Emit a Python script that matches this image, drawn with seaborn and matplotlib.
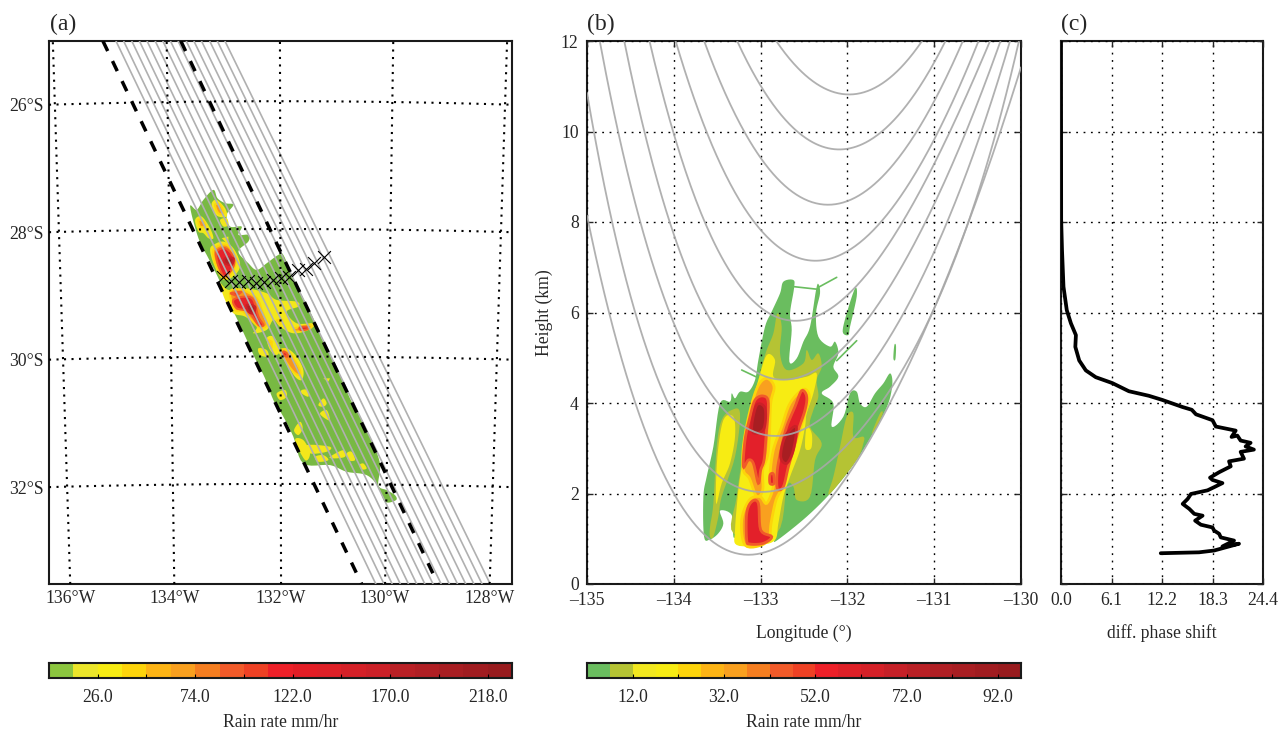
import numpy as np
import pandas as pd
import seaborn as sns
import matplotlib
matplotlib.use("Agg")
import matplotlib.pyplot as plt

sns.set_style("white")
plt.rcParams["font.family"] = ["Liberation Serif", "DejaVu Serif"]
plt.rcParams["font.size"] = 12.7

# ---------- panel (a) values: lon/lat frame ----------
LAT_TICKS = [-26, -28, -30, -32]
LAT_LABELS = ["26°S", "28°S", "30°S", "32°S"]
LAT_MID = [-25.945, -27.95, -29.95, -31.95]
LON_LABELS = ["136°W", "134°W", "132°W", "130°W", "128°W"]
MERID_TOP = [-136.19, -134.10, -132.02, -129.94, -127.85]
MERID_BOT = [-135.87, -133.96, -132.0, -130.09, -128.17]
GREY_TOP = [-135.03, -134.89, -134.74, -134.60, -134.46, -134.31, -134.17, -134.03,
            -133.89, -133.74, -133.60, -133.46, -133.31, -133.17, -133.03]
GREY_BOT = [-130.26, -130.11, -129.96, -129.81, -129.66, -129.51, -129.36, -129.21,
            -129.06, -128.91, -128.76, -128.61, -128.46, -128.31, -128.16]
DASH_TOP = [-135.27, -133.84]
DASH_BOT = [-130.52, -129.12]

# rain outlines of (a), digitised on a fine grid: lon=-134.037+i/163.5, lat=-27.021-j/191
A_GREEN = [[(130,60),(142,85),(165,100),(190,105),(170,135),(180,170),(215,170),(205,195),(235,195),(235,215),
            (205,245),(235,280),(260,300),(290,280),(325,255),(340,255),(370,325),(400,385),(430,445),(455,505),
            (485,565),(515,625),(540,685),(570,740),(600,800),(630,880),(625,945),(650,960),(675,975),(678,990),
            (645,995),(625,950),(590,915),(530,905),(480,885),(400,880),(370,800),(340,740),(310,690),(285,625),
            (255,565),(228,505),(200,445),(170,385),(145,325),(115,265),(85,205),(60,110),(80,120),(100,90)]]
A_YELLOW = [[(125,100),(140,90),(165,115),(170,140),(145,140),(130,125)],
            [(150,150),(170,145),(175,165),(160,170)],
            [(75,150),(95,140),(120,175),(130,205),(115,205),(100,190),(85,185)],
            [(120,240),(130,225),(160,215),(190,235),(210,280),(200,310),(170,330),(150,320),(130,280)],
            [(155,205),(175,200),(175,225)],
            [(150,340),(175,360),(230,355),(290,370),(320,390),(380,395),(385,410),(350,425),(380,460),(435,460),
             (415,480),(370,490),(330,470),(310,450),(290,480),(250,490),(260,470),(225,440),(190,430),(165,390)],
            [(290,505),(310,500),(330,535),(320,555),(300,540)],
            [(265,535),(290,540),(295,560),(270,555)],
            [(325,545),(350,535),(380,560),(400,600),(395,630),(375,620),(350,580)],
            [(460,625),(480,625),(475,635)],[(320,670),(345,660),(350,680),(330,690)],
            [(395,660),(412,660),(415,680),(395,670)],[(445,705),(460,685),(470,700),(460,710)],
            [(450,730),(470,720),(480,750),(465,745)],[(372,780),(390,755),(398,775),(385,795)],
            [(375,810),(400,810),(420,850),(405,870)],[(410,825),(480,830),(470,845),(420,850)],
            [(435,860),(460,855),(475,870),(445,875)],[(480,860),(520,840),(525,860),(490,865)],
            [(530,850),(545,845),(555,870),(535,870)],[(568,885),(580,880),(590,895),(575,898)]]
A_ORANGE = [[(135,105),(150,105),(160,130),(145,130)],[(85,150),(100,155),(105,170),(90,170)],
            [(130,240),(170,225),(195,265),(190,300),(165,325),(140,290)],
            [(180,365),(215,360),(260,385),(275,420),(290,465),(265,470),(220,425),(195,420)],
            [(295,510),(305,515),(305,535)],[(335,540),(355,545),(385,590),(390,615),(370,605),(345,570)],
            [(375,475),(420,465),(420,475),(380,485)],[(320,450),(335,450),(330,465)]]
A_RED = [[(140,245),(165,235),(190,260),(190,290),(165,320),(150,300),(140,270)],
         [(190,390),(225,380),(250,390),(265,440),(280,465),(265,465),(235,425),(200,415)],
         [(180,370),(215,365),(200,378)],[(340,545),(350,550),(352,560),(340,555)],
         [(390,472),(412,470),(412,478),(392,480)]]
A_DARK = [[(165,265),(190,265),(185,285),(165,280)],[(230,405),(255,410),(250,430),(235,425)]]
TRACK_I = [158,183,208,233,258,283,308,333,358,383,408,433,462]
TRACK_J = [320,332,336,332,340,335,330,325,320,300,298,278,262]

# ---------- panel (b) values ----------
BEAMS = [
    [(-135,8.0),(-134.72,6.12),(-134.47,4.05),(-134.03,2.0),(-133.2,.67),(-132.63,1.04),(-132,2.47),(-131.47,4.05),(-131,6.12),(-130,11.42)],
    [(-135,10.8),(-134.70,8),(-134.07,4.05),(-133.81,3.0),(-133.43,2.3),(-133,2.0),(-132.47,2.45),(-131.82,3.55),(-131.28,4.8),(-130.63,8),(-130.02,12)],
    [(-134.85,12),(-134.65,10),(-134.38,8),(-133.81,5.0),(-133.43,3.77),(-132.85,3.33),(-132.2,3.85),(-131.3,6.05),(-130.86,8),(-130.47,10),(-130.12,12)],
    [(-134.57,12),(-134.34,10),(-134.05,8),(-133.81,6.79),(-133.43,5.32),(-132.81,4.62),(-132.28,4.8),(-131.39,6.94),(-131.09,8),(-130.65,10),(-130.23,12)],
    [(-134.28,12),(-134,10),(-133.67,8),(-133.35,6.94),(-132.58,5.9),(-131.70,6.94),(-131.36,8),(-130.84,10),(-130.35,12)],
    [(-133.98,12),(-133.62,10),(-133.08,8),(-132.43,7.15),(-131.62,8),(-130.95,10),(-130.49,12)],
    [(-133.65,12),(-133.19,10),(-132.28,8.39),(-131.2,10),(-130.67,12)],
    [(-133.27,12),(-132.58,10),(-132.11,9.61),(-131.6,10),(-130.87,12)],
    [(-132.82,12),(-132.01,10.82),(-131.14,12)],
]
LON_TICKS = [-135, -134, -133, -132, -131, -130]
LON_TICK_LABELS = ["–135", "–134", "–133", "–132", "–131", "–130"]
H_TICKS = [0, 2, 4, 6, 8, 10, 12]

# rain outlines of (b), digitised on a fine grid: lon=-133.813+i/260.4, height=6.939-j/135.75
B_GREEN = [[(42,800),(40,680),(50,620),(70,530),(90,400),(120,395),(125,370),(135,385),(150,365),(175,365),(195,330),
            (205,270),(225,170),(245,125),(270,70),(280,35),(310,30),(312,55),(300,130),(305,180),(298,275),(320,265),
            (340,215),(360,170),(378,60),(385,42),(390,70),(378,130),(385,200),(420,230),(435,215),(445,250),(430,290),
            (445,320),(420,350),(395,370),(430,400),(425,470),(460,440),(480,370),(500,365),(510,400),(530,410),(555,370),
            (580,340),(600,310),(607,340),(595,400),(560,470),(500,570),(430,660),(350,740),(260,812),(250,810),(210,825),
            (145,825),(140,800),(130,800),(125,735),(90,722),(100,760),(85,790),(60,808)],
           [(495,55),(500,80),(480,170),(475,195),(458,185),(470,130)],
           [(610,265),(613,225),(618,228),(616,268)]]
B_THIN = [[(385,52),(440,22)],[(312,50),(385,58)],[(155,300),(212,327)],[(440,272),(500,212)]]
B_OLIVE = [[(60,800),(60,770),(70,700),(80,530),(95,450),(125,420),(150,430),(135,560),(95,680),(85,740),(70,800)],
           [(130,790),(140,680),(160,540),(180,420),(200,350),(215,290),(230,240),(250,190),(262,130),(275,170),(270,250),
            (290,300),(340,280),(350,240),(365,270),(385,250),(395,290),(380,330),(385,380),(370,420),(360,470),(395,520),
            (375,570),(360,680),(320,690),(310,650),(290,650),(260,790)],
           [(415,670),(430,620),(450,530),(470,440),(490,430),(490,500),(520,500),(520,520),(500,570),(430,660)],
           [(545,490),(570,430),(578,430),(560,470)]]
B_YELLOW = [[(140,825),(135,780),(145,660),(155,590),(165,500),(185,400),(205,330),(230,255),(255,270),(250,320),(290,330),
             (350,320),(380,310),(370,370),(350,430),(345,470),(330,540),(300,620),(280,680),(265,760),(255,810),(210,825)],
            [(345,530),(350,470),(365,490),(365,530),(355,540)],
            [(78,700),(82,560),(100,450),(130,440),(135,500),(120,580),(95,640)]]
B_ORANGE = [[(160,600),(160,530),(178,430),(203,350),(230,325),(252,350),(242,400),(238,500),(232,560),(218,600),(218,660),(200,680),(178,625)],
            [(165,825),(155,750),(178,690),(210,680),(230,700),(250,650),(240,620),(250,540),(275,470),(300,400),(340,358),(358,380),
             (345,430),(320,510),(295,590),(278,650),(258,690),(243,760),(238,800),(215,825)]]
B_RED = [[(160,590),(165,510),(180,440),(195,390),(220,378),(235,400),(228,500),(222,570),(212,600),(205,640),(190,580),(175,570)],
         [(170,810),(170,730),(185,695),(205,700),(212,780),(245,800),(220,820),(180,822)],
         [(262,655),(262,600),(275,530),(290,470),(315,410),(335,362),(350,380),(345,420),(325,480),(312,530),(295,590),(280,650)],
         [(240,615),(250,612),(252,640),(240,640)]]
B_DARK = [[(185,470),(200,405),(225,415),(222,475),(195,490)],[(272,560),(285,500),(318,470),(310,540),(290,580)]]

# ---------- panel (c) values ----------
PHASE = [12.05,16.67,18.5,21.5,19.5,20.9,19.3,19.1,18.5,18.3,16.9,16.2,17.1,16.1,15.5,14.7,15.3,15.7,17.7,18.5,19.5,18.3,18.0,
         19.1,20.5,20.3,22.1,21.7,23.3,22.3,22.9,21.7,21.3,20.6,21.1,18.7,18.3,16.3,15.8,14.7,12.2,10.6,8.2,6.2,4.2,3.0,2.2,1.73,
         1.8,1.2,.7,.3,.12,.02,0.0]
PHASE_H = [.68,.70,.74,.89,.83,.96,1.03,1.11,1.18,1.25,1.31,1.40,1.51,1.55,1.66,1.77,1.88,1.99,2.07,2.14,2.23,2.30,2.35,
           2.47,2.6,2.71,2.77,2.92,2.97,3.04,3.12,3.17,3.28,3.25,3.39,3.48,3.62,3.75,3.85,3.91,4.07,4.16,4.26,4.44,4.57,4.72,4.94,5.24,
           5.5,5.76,6.05,6.57,7.39,8.05,12.0]
PHASE_TICKS = [0.0, 6.1, 12.2, 18.3, 24.4]

# ---------- colour bars ----------
CB1_EDGES = list(range(2, 231, 12))
CB1_COLORS = ["#8cc63f","#ece62a","#f7ec13","#fdd40b","#fdb415","#f9a01f","#f57e20","#f15a29","#ee4124","#ed2028",
              "#e31e26","#de2027","#d42027","#cb2027","#b92025","#b01f24","#a81e22","#a01c20","#981b1e"]
CB1_LABELS = [26.0, 74.0, 122.0, 170.0, 218.0]
CB2_EDGES = list(range(2, 98, 5))
CB2_COLORS = ["#6abd5f","#b5c334","#f2e81f","#f7ec13","#fdd40b","#fdb415","#f9a01f","#f57e20","#f15a29","#ee4124",
              "#ed2028","#de2027","#d42027","#c52027","#b92025","#b01f24","#a81e22","#a01c20","#981b1e"]
CB2_LABELS = [12.0, 32.0, 52.0, 72.0, 92.0]

W, H = 1279, 733
fig = plt.figure(figsize=(W / 100, H / 100), dpi=100)


def add_ax(x0, y0, x1, y1):
    return fig.add_axes([x0 / W, 1 - y1 / H, (x1 - x0) / W, (y1 - y0) / H])


def smooth(poly, steps=6):
    """Closed Catmull-Rom curve through the digitised vertices."""
    p = np.asarray(poly, float)
    if len(p) < 4:
        return p
    t = np.linspace(0, 1, steps, endpoint=False)[:, None]
    out = []
    for i in range(len(p)):
        a, b, c, d = p[i - 1], p[i], p[(i + 1) % len(p)], p[(i + 2) % len(p)]
        out.append(0.5 * (2 * b + (c - a) * t + (2 * a - 5 * b + 4 * c - d) * t ** 2 + (3 * b - a - 3 * c + d) * t ** 3))
    return np.vstack(out)


def frame(ax):
    for s in ax.spines.values():
        s.set_visible(True)
        s.set_linewidth(1.5)
        s.set_color("#1a1a1a")


DOT = (0, (1.3, 4.0))
GREY = "#b0b0b0"

# ---------- (a) ----------
axa = add_ax(49, 41, 512, 584)
frame(axa)
axa.set_xlim(-136.26, -127.76)
axa.set_ylim(-33.52, -25.0)


def a_xy(poly):
    p = smooth(poly)
    return -134.037 + p[:, 0] / 163.5, -27.021 - p[:, 1] / 191


for polys, col, edge, z in [(A_GREEN, "#78b943", "none", 2), (A_YELLOW, "#f3e71b", "none", 3),
                            (A_ORANGE, "#f7951d", "#fdd40b", 4), (A_RED, "#e5232a", "#f15a29", 5),
                            (A_DARK, "#b01f24", "#cb2027", 6)]:
    for poly in polys:
        xs, ys = a_xy(poly)
        axa.fill(xs, ys, facecolor=col, edgecolor=edge, lw=0 if edge == "none" else 1.5, zorder=z)

ylim_a = axa.get_ylim()
for top, bot in zip(GREY_TOP, GREY_BOT):
    sns.lineplot(x=[bot, top], y=[ylim_a[0], ylim_a[1]], ax=axa, color=GREY, lw=1.2, sort=False, estimator=None, zorder=7)
for top, bot in zip(DASH_TOP, DASH_BOT):
    axa.plot([top, bot], [ylim_a[1], ylim_a[0]], color="black", lw=2.5, ls=(0, (3.2, 3.2)), zorder=9)
for top, bot in zip(MERID_TOP, MERID_BOT):
    axa.plot([bot, top], [ylim_a[0], ylim_a[1]], color="black", lw=1.5, ls=(0, (1, 2.6)), zorder=8)
for edge, mid in zip(LAT_TICKS, LAT_MID):
    c = np.polyfit([-136.26, -132.0, -127.76], [edge, mid, edge], 2)
    xx = np.linspace(-136.26, -127.76, 120)
    axa.plot(xx, np.polyval(c, xx), color="black", lw=1.5, ls=(0, (1, 2.6)), zorder=8)
sns.scatterplot(x=-134.037 + np.array(TRACK_I) / 163.5, y=-27.021 - np.array(TRACK_J) / 191, ax=axa,
                marker="x", s=85, color="black", linewidth=0.8, zorder=10)
axa.set_xticks(MERID_BOT)
axa.set_xticklabels(LON_LABELS)
axa.set_yticks(LAT_TICKS)
axa.set_yticklabels(LAT_LABELS)
axa.tick_params(length=0, pad=4)

# ---------- (b) ----------
axb = add_ax(587, 41, 1021, 584)
frame(axb)
axb.set_xlim(-135, -130)
axb.set_ylim(0, 12)


def b_xy(poly, interp=True):
    p = smooth(poly) if interp else np.asarray(poly, float)
    return -133.813 + p[:, 0] / 260.4, 6.939 - p[:, 1] / 135.75


for polys, col, edge, z in [(B_GREEN, "#6abd5f", "none", 2), (B_OLIVE, "#b5c334", "none", 3),
                            (B_YELLOW, "#f7ec13", "none", 4), (B_ORANGE, "#f9a01f", "#fdd40b", 5),
                            (B_RED, "#e3202a", "#f15a29", 6), (B_DARK, "#a81e22", "#cb2027", 7)]:
    for poly in polys:
        xs, ys = b_xy(poly)
        axb.fill(xs, ys, facecolor=col, edgecolor=edge, lw=0 if edge == "none" else 2.0, zorder=z)
for seg in B_THIN:
    xs, ys = b_xy(seg, False)
    axb.plot(xs, ys, color="#6abd5f", lw=1.2, zorder=2)
for beam in BEAMS:
    bx, by = np.array(beam).T
    c = np.polyfit(bx, by, min(4, len(bx) - 2) if len(bx) > 3 else 2)
    xx = np.linspace(bx.min(), bx.max(), 200)
    frame_df = pd.DataFrame({"lon": xx, "h": np.polyval(c, xx)})
    sns.lineplot(data=frame_df, x="lon", y="h", ax=axb, color="#a8a8a8", alpha=0.9, lw=1.3, sort=False, estimator=None, zorder=8)
axb.set_xticks(LON_TICKS)
axb.set_xticklabels(LON_TICK_LABELS)
axb.set_yticks(H_TICKS)
axb.grid(True, color="black", lw=1.0, ls=DOT, zorder=9)
axb.set_axisbelow(False)
axb.tick_params(direction="in", length=4, width=1, top=True, right=True, bottom=True, left=True, pad=6)
axb.set_xlabel("Longitude (°)", labelpad=11)
axb.set_ylabel("Height (km)", labelpad=6)

# ---------- (c) ----------
axc = add_ax(1061, 41, 1263, 584)
frame(axc)
sns.lineplot(x=PHASE, y=PHASE_H, ax=axc, color="black", lw=2.7, sort=False, estimator=None, zorder=5)
axc.set_xlim(0, 24.4)
axc.set_ylim(0, 12)
axc.set_xticks(PHASE_TICKS)
axc.set_xticklabels([f"{v:.1f}" for v in PHASE_TICKS])
axc.set_yticks(H_TICKS)
axc.set_yticklabels([])
axc.grid(True, color="black", lw=1.0, ls=DOT, zorder=1)
axc.set_axisbelow(False)
axc.tick_params(direction="in", length=4, width=1, top=True, right=True, bottom=True, left=True, pad=6)
axc.set_xlabel("diff. phase shift", labelpad=11)

for ax, s, xp in [(axa, "(a)", 50), (axb, "(b)", 587), (axc, "(c)", 1061)]:
    fig.text(xp / W, 1 - 24 / H, s, fontsize=17, ha="left", va="center")


# ---------- colour bars ----------
def cbar(x0, x1, edges, colors, labels):
    ax = add_ax(x0, 663, x1, 678)
    frame(ax)
    ax.pcolormesh(edges, [0, 1], np.arange(len(colors))[None, :],
                  cmap=matplotlib.colors.ListedColormap(colors), vmin=-0.5, vmax=len(colors) - 0.5)
    ax.set_xlim(edges[0], edges[-1])
    ax.set_ylim(0, 1)
    ax.set_yticks([])
    ax.set_xticks(labels)
    ax.set_xticklabels([f"{v:.1f}" for v in labels])
    ax.set_xticks([e for e in np.array(edges)[2::2] if e not in labels], minor=True)
    ax.set_axisbelow(False)
    ax.tick_params(axis="x", which="both", direction="in", length=3, width=0.8, bottom=True, color="black", pad=8)
    ax.set_xlabel("Rain rate mm/hr", labelpad=6)


cbar(49, 512, CB1_EDGES, CB1_COLORS, CB1_LABELS)
cbar(587, 1021, CB2_EDGES, CB2_COLORS, CB2_LABELS)

fig.savefig("out.png", dpi=100)
